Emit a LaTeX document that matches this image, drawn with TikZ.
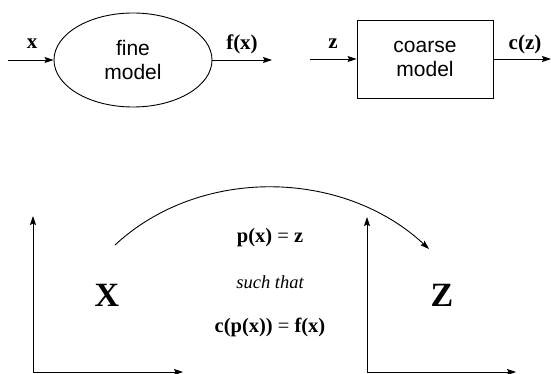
\documentclass[tikz,border=0pt]{standalone}
\usepackage{fontspec}
\setmainfont{Liberation Serif}
\newfontfamily\arialf{Liberation Sans}
\usetikzlibrary{arrows.meta,shapes.geometric}
\tikzset{
  conn/.style={line width=0.9pt,-{Stealth[length=9pt,width=6pt,inset=1.5pt]}},
  modeltext/.style={font=\arialf\fontsize{21}{23.5}\selectfont,align=center},
  lbl/.style={font=\fontsize{21}{24}\selectfont\bfseries},
  big/.style={font=\fontsize{34}{38}\selectfont\bfseries},
  eq/.style={font=\fontsize{20.5}{24}\selectfont},
}
\begin{document}
\begin{tikzpicture}[x=1pt,y=-1pt]
\useasboundingbox (0,0) rectangle (551,374);
% top left: fine model
\node[ellipse,draw,line width=0.9pt,minimum width=158pt,minimum height=94pt,inner sep=0pt,modeltext] (fine) at (133,60) {fine\\model};
\coordinate (xin) at (8,60);
\coordinate (fout) at (272,60);
\draw[conn] (xin) -- (fine.west);
\draw[conn] (fine.east) -- (fout);
\node[lbl] (xl) at (32,44) {x};
\node[lbl] (fl) at (242,44) {f(x)};
% top right: coarse model
\node[rectangle,draw,line width=0.9pt,minimum width=136pt,minimum height=78pt,inner sep=0pt,modeltext] (coarse) at (425,59) {coarse\\model};
\coordinate (zin) at (310,59);
\coordinate (cout) at (551,59);
\draw[conn] (zin) -- (coarse.west);
\draw[conn] (coarse.east) -- (cout);
\node[lbl] (zl) at (333,44) {z};
\node[lbl] (cl) at (525,44) {c(z)};
% bottom axes
\coordinate (o1) at (33,372);
\coordinate (y1) at (33,216);
\coordinate (x1) at (183,372);
\draw[conn] (o1) -- (y1);
\draw[conn] (o1) -- (x1);
\coordinate (o2) at (367,372);
\coordinate (y2) at (367,217);
\coordinate (x2) at (516,372);
\draw[conn] (o2) -- (y2);
\draw[conn] (o2) -- (x2);
% spaces
\node[big] (X) at (107,295) {X};
\node[big] (Z) at (442,295) {Z};
% arc
\coordinate (as) at (115,245);
\coordinate (ae) at (429,249);
\draw[conn] (as) .. controls (200,166) and (343,169) .. (ae);
% equations
\node[eq] (e1) at (270,238) {\textbf{p(x)} = \textbf{z}};
\node[font=\fontsize{18.5}{22}\selectfont\itshape] (st) at (270,282) {such that};
\node[eq] (e2) at (270,327) {\textbf{c(p(x))} = \textbf{f(x)}};
\end{tikzpicture}
\end{document}
